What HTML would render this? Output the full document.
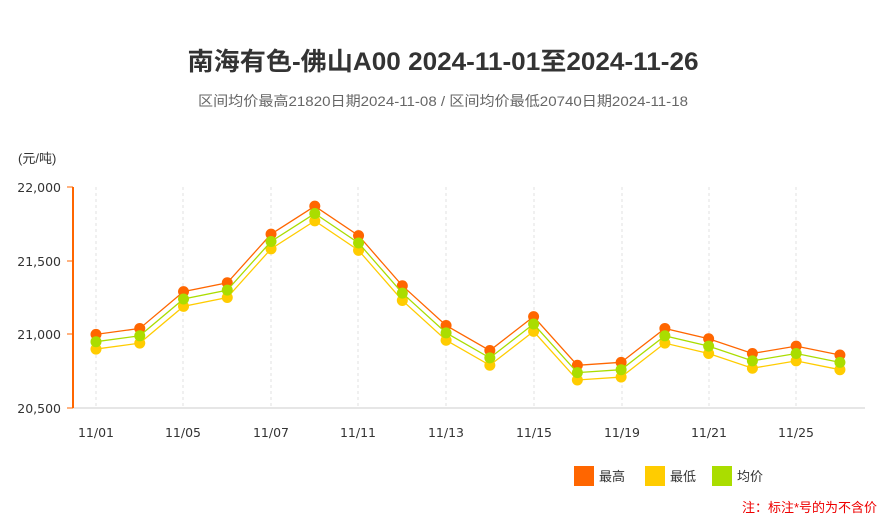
<!DOCTYPE html>
<html><head><meta charset="utf-8"><style>
body{margin:0;background:#fff;width:886px;height:522px;overflow:hidden;font-family:"Liberation Sans","Noto Sans CJK SC",sans-serif}
</style></head><body>
<svg width="886" height="522" xmlns="http://www.w3.org/2000/svg" font-family="Liberation Sans, Noto Sans CJK SC, sans-serif">
<text x="443" y="70" text-anchor="middle" font-size="25" font-weight="bold" fill="#333" textLength="511" lengthAdjust="spacingAndGlyphs">南海有色-佛山A00 2024-11-01至2024-11-26</text>
<text x="443" y="106" text-anchor="middle" font-size="14" fill="#666" textLength="490" lengthAdjust="spacingAndGlyphs">区间均价最高21820日期2024-11-08 / 区间均价最低20740日期2024-11-18</text>
<text x="18" y="163" font-size="13" fill="#333">(元/吨)</text>
<g stroke="#e2e2e2" stroke-dasharray="3,3">
<line x1="96" y1="187" x2="96" y2="408"/><line x1="183" y1="187" x2="183" y2="408"/><line x1="271" y1="187" x2="271" y2="408"/><line x1="358" y1="187" x2="358" y2="408"/><line x1="446" y1="187" x2="446" y2="408"/><line x1="534" y1="187" x2="534" y2="408"/><line x1="622" y1="187" x2="622" y2="408"/><line x1="709" y1="187" x2="709" y2="408"/><line x1="796" y1="187" x2="796" y2="408"/>
</g>
<line x1="73" y1="408" x2="865" y2="408" stroke="#ccc"/>
<line x1="73" y1="187" x2="73" y2="408" stroke="#ff6600" stroke-width="2"/>
<g stroke="#ff6600"><line x1="67" y1="187" x2="73" y2="187"/><line x1="67" y1="261" x2="73" y2="261"/><line x1="67" y1="334" x2="73" y2="334"/><line x1="67" y1="408" x2="73" y2="408"/></g>
<g font-size="12.5" fill="#333" text-anchor="end" font-family="DejaVu Sans, sans-serif">
<text x="61" y="192">22,000</text><text x="61" y="266">21,500</text><text x="61" y="339">21,000</text><text x="61" y="413">20,500</text>
</g>
<g font-size="12.5" fill="#333" text-anchor="middle" font-family="DejaVu Sans, sans-serif">
<text x="96" y="437">11/01</text><text x="183" y="437">11/05</text><text x="271" y="437">11/07</text><text x="358" y="437">11/11</text><text x="446" y="437">11/13</text><text x="534" y="437">11/15</text><text x="622" y="437">11/19</text><text x="709" y="437">11/21</text><text x="796" y="437">11/25</text>
</g>
<g id="c"></g>
<rect x="574" y="466" width="20" height="20" fill="#ff6600"/><text x="599" y="481" font-size="13" fill="#333">最高</text>
<rect x="645" y="466" width="20" height="20" fill="#ffcc00"/><text x="670" y="481" font-size="13" fill="#333">最低</text>
<rect x="712" y="466" width="20" height="20" fill="#aadd00"/><text x="737" y="481" font-size="13" fill="#333">均价</text>
<text x="877" y="512" text-anchor="end" font-size="13" fill="#e00">注：标注*号的为不含价</text>
</svg>
<script>
var avg=[20950,20990,21240,21300,21630,21820,21620,21280,21010,20840,21070,20740,20760,20990,20920,20820,20870,20810];
var g=document.getElementById('c'),ns="http://www.w3.org/2000/svg";
function y(v){return 187+(22000-v)*221/1500}
[[50,'#ff6600'],[-50,'#ffcc00'],[0,'#aadd00']].forEach(function(s){
var pts=avg.map(function(v,i){return [96+i*43.76,y(v+s[0])]});
var pl=document.createElementNS(ns,'polyline');pl.setAttribute('points',pts.map(function(p){return p.join(',')}).join(' '));
pl.setAttribute('fill','none');pl.setAttribute('stroke',s[1]);pl.setAttribute('stroke-width','1.3');g.appendChild(pl);
pts.forEach(function(p){var c=document.createElementNS(ns,'circle');c.setAttribute('cx',p[0]);c.setAttribute('cy',p[1]);c.setAttribute('r','5.5');c.setAttribute('fill',s[1]);g.appendChild(c);});
});
</script>
</body></html>
